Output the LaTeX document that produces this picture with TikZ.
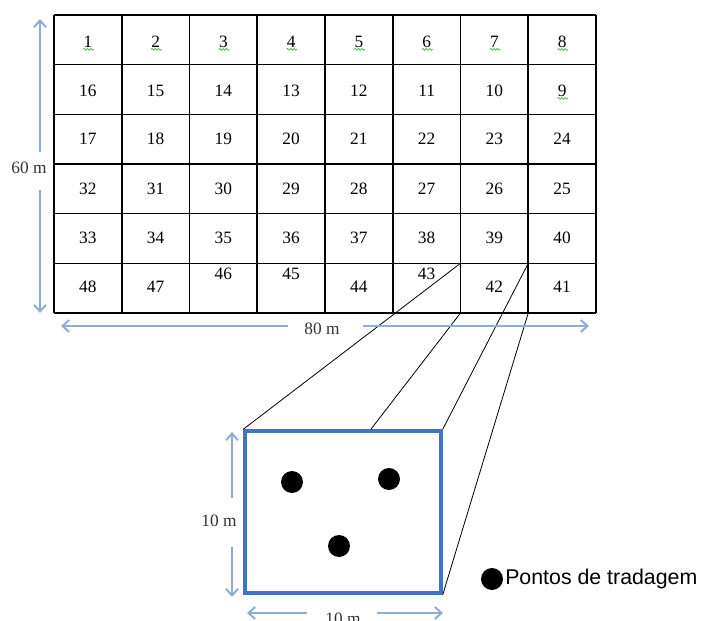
\documentclass[tikz,border=0pt]{standalone}
\usepackage{fontspec}
\setmainfont{Liberation Serif}
\newfontfamily\legendfont{Liberation Sans}
\usetikzlibrary{calc,arrows.meta,decorations.pathmorphing}
\definecolor{dimblue}{RGB}{141,173,214}
\definecolor{plotblue}{RGB}{68,114,196}
\definecolor{spellgreen}{RGB}{70,170,70}
\tikzstyle{num} = [font=\fontsize{13}{15}\selectfont, inner sep=0pt]
\tikzstyle{dimlabel} = [font=\fontsize{13}{15}\selectfont, text=black!80, inner sep=0pt]
\tikzstyle{dim} = [dimblue, line width=1.5pt, -{Straight Barb[length=5pt,width=9pt]}]
\tikzstyle{gridline} = [line width=1.2pt]
\tikzstyle{link} = [line width=0.6pt]
\tikzstyle{dot} = [circle, fill=black, minimum size=16.5pt, inner sep=0pt]
\tikzstyle{spell} = [spellgreen, line width=0.5pt, decorate, decoration={snake, amplitude=0.7pt, segment length=2.5pt}]

\begin{document}
\begin{tikzpicture}[x=0.75pt, y=-0.75pt]
\useasboundingbox (0,0) rectangle (701,621);

    % field: 8 x 6 cells
    \foreach \i in {0,...,8}
        \draw[gridline] (54+\i*67.75,15) -- (54+\i*67.75,313);
    \foreach \j in {0,...,6}
        \draw[gridline] (54,15+\j*49.67) -- (596,15+\j*49.67);

    % cell numbers, row by row
    \foreach \n [count=\c] in {1,...,8}       \node[num] (n\n) at (20.125+\c*67.75, 42) {\n};
    \foreach \n [count=\c] in {16,15,...,9}   \node[num] (n\n) at (20.125+\c*67.75, 91) {\n};
    \foreach \n [count=\c] in {17,...,24}     \node[num] (n\n) at (20.125+\c*67.75,139) {\n};
    \foreach \n [count=\c] in {32,31,...,25}  \node[num] (n\n) at (20.125+\c*67.75,189) {\n};
    \foreach \n [count=\c] in {33,...,40}     \node[num] (n\n) at (20.125+\c*67.75,238) {\n};
    \foreach \n/\dy [count=\c] in {48/0,47/0,46/-13,45/-13,44/0,43/-13,42/0,41/0}
        \node[num] (n\n) at (20.125+\c*67.75,287+\dy) {\n};

    \foreach \n in {1,...,9}
        \draw[spell] ([xshift=-3.5pt,yshift=-1pt]n\n.south) -- ([xshift=4.5pt,yshift=-1pt]n\n.south);

    % corners of cell 42
    \coordinate (c42nw) at (460.5,263.3);
    \coordinate (c42ne) at (528.25,263.3);
    \coordinate (c42sw) at (460.5,313);
    \coordinate (c42se) at (528.25,313);

    % enlarged plot
    \node[draw=plotblue, line width=2.6pt, minimum width=147pt, minimum height=121.5pt, inner sep=0pt] (plot) at (343,512) {};
    \coordinate (plotcut) at ($(plot.north west)!0.64!(plot.north east)$);

    \draw[link] (c42nw) -- (plot.north west);
    \draw[link] (c42sw) -- (plotcut);
    \draw[link] (c42ne) -- (plot.north east);
    \draw[link] (c42se) -- (plot.south east);

    % sampling points
    \node[dot] (p1) at (292,482) {};
    \node[dot] (p2) at (389,479) {};
    \node[dot] (p3) at (339,546) {};

    % legend
    \node[dot] (key) at (492,579) {};
    \node[anchor=west, inner sep=0pt, font=\legendfont\fontsize{16}{18}\selectfont] (keytext) at (505,579) {Pontos de tradagem};

    % dimensions of the field
    \node[dimlabel] (h60) at (29,168) {60 m};
    \coordinate (h60a) at (40,152);  \coordinate (h60top) at (40,19);
    \coordinate (h60b) at (40,190);  \coordinate (h60bot) at (40,313);
    \draw[dim] (h60a) -- (h60top);
    \draw[dim] (h60b) -- (h60bot);

    \node[dimlabel] (w80) at (322,329) {80 m};
    \coordinate (w80a) at (288,326);  \coordinate (w80left) at (61,326);
    \coordinate (w80b) at (363,326);  \coordinate (w80right) at (589,326);
    \draw[dim] (w80a) -- (w80left);
    \draw[dim] (w80b) -- (w80right);

    % dimensions of the plot
    \node[dimlabel] (h10) at (219,521) {10 m};
    \coordinate (h10a) at (232,498);  \coordinate (h10top) at (232,432);
    \coordinate (h10b) at (232,547);  \coordinate (h10bot) at (232,597);
    \draw[dim] (h10a) -- (h10top);
    \draw[dim] (h10b) -- (h10bot);

    \node[dimlabel] (w10) at (343,619) {10 m};
    \coordinate (w10a) at (307,613);  \coordinate (w10left) at (247,613);
    \coordinate (w10b) at (377,613);  \coordinate (w10right) at (443,613);
    \draw[dim] (w10a) -- (w10left);
    \draw[dim] (w10b) -- (w10right);

\end{tikzpicture}
\end{document}
